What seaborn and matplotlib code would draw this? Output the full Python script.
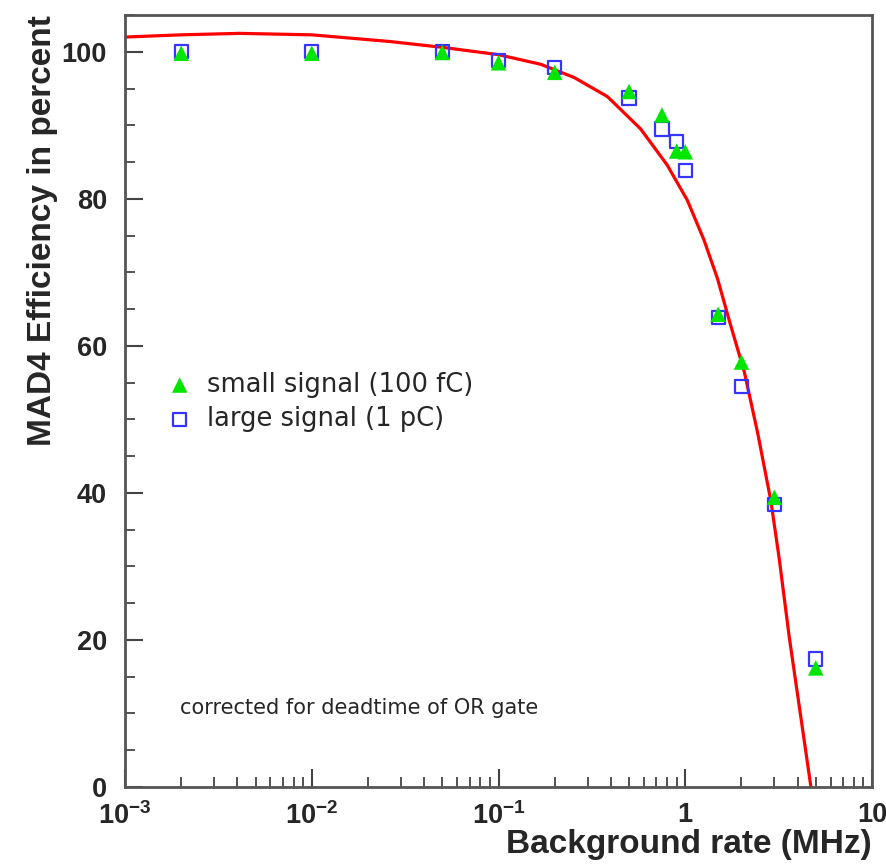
import matplotlib
matplotlib.use("Agg")
import matplotlib.pyplot as plt
from matplotlib.ticker import MultipleLocator, FixedLocator, FixedFormatter, LogLocator, NullFormatter
import seaborn as sns
import pandas as pd

# measured points (background rate in MHz, efficiency in %)
rate = [0.002, 0.01, 0.05, 0.1, 0.2, 0.5, 0.75, 0.9, 1.0, 1.5, 2.0, 3.0, 5.0]
small_eff = [99.8, 99.8, 99.9, 98.5, 97.2, 94.6, 91.4, 86.5, 86.4, 64.3, 57.8, 39.4, 16.2]
large_eff = [100.0, 100.0, 100.0, 98.8, 97.9, 93.7, 89.5, 87.8, 83.9, 63.9, 54.5, 38.4, 17.4]

# red curve
fit_rate = [0.001, 0.002, 0.0041, 0.01, 0.026, 0.05, 0.1, 0.168, 0.254, 0.383, 0.577,
            0.80, 1.026, 1.26, 1.49, 1.75, 2.07, 2.44, 2.87, 3.18, 3.6, 4.71]
fit_eff = [102.0, 102.3, 102.5, 102.3, 101.4, 100.6, 99.6, 98.3, 96.5, 93.9, 89.5,
           84.6, 79.8, 74.4, 69.1, 62.8, 56.5, 48.2, 39.0, 31.2, 20.5, 0.0]

xticks = [1e-3, 1e-2, 1e-1, 1, 10]
xtick_labels = [r'$10^{-3}$', r'$10^{-2}$', r'$10^{-1}$', '1', '10']
yticks = [0, 20, 40, 60, 80, 100]

sns.set_style("ticks")
plt.rcParams['font.family'] = ['Liberation Sans', 'DejaVu Sans']
plt.rcParams['mathtext.fontset'] = 'custom'
plt.rcParams['mathtext.rm'] = 'Liberation Sans:bold'
plt.rcParams['mathtext.it'] = 'Liberation Sans:bold'
plt.rcParams['mathtext.bf'] = 'Liberation Sans:bold'

points = pd.DataFrame({'rate': rate, 'small': small_eff, 'large': large_eff})
curve = pd.DataFrame({'rate': fit_rate, 'eff': fit_eff})

fig = plt.figure(figsize=(8.86, 8.66), dpi=100)
ax = fig.add_axes([0.1411, 0.0912, 0.8431, 0.8915])

sns.lineplot(data=curve, x='rate', y='eff', sort=False, estimator=None,
             color='#ff0000', lw=2.3, zorder=2, ax=ax)
sns.scatterplot(data=points, x='rate', y='small', marker='^', s=125,
                color='#00e600', edgecolor='none', zorder=4,
                label='small signal (100 fC)', ax=ax)
sns.scatterplot(data=points, x='rate', y='large', marker='s', s=90,
                facecolor='none', edgecolor='#3535ff', linewidth=1.6, zorder=3,
                label='large signal (1 pC)', ax=ax)

ax.set_xscale('log')
ax.set_xlim(1e-3, 10)
ax.set_ylim(0, 105)

ax.xaxis.set_major_locator(FixedLocator(xticks))
ax.xaxis.set_major_formatter(FixedFormatter(xtick_labels))
ax.xaxis.set_minor_locator(LogLocator(base=10, subs=range(2, 10)))
ax.xaxis.set_minor_formatter(NullFormatter())
ax.yaxis.set_major_locator(FixedLocator(yticks))
ax.yaxis.set_minor_locator(MultipleLocator(5))

for s in ax.spines.values():
    s.set_color('#555555')
    s.set_linewidth(2)

ax.tick_params(axis='both', which='major', direction='in', length=13, width=1.5,
               color='#444444', labelsize=19.5)
ax.tick_params(axis='both', which='minor', direction='in', length=7, width=1.3,
               color='#444444')
ax.tick_params(axis='y', which='major', pad=13)
ax.tick_params(axis='x', which='major', pad=11)
for lab in ax.get_xticklabels() + ax.get_yticklabels():
    lab.set_fontweight('bold')

ax.set_xlabel('Background rate (MHz)', fontsize=24, fontweight='bold', loc='right')
ax.set_ylabel('MAD4 Efficiency in percent', fontsize=24, fontweight='bold', loc='top')
ax.xaxis.set_label_coords(1.0, -0.054)
ax.yaxis.set_label_coords(-0.09, 1.0)

ax.legend(loc='center left', bbox_to_anchor=(0.056, 0.4987), frameon=False,
          borderpad=0, borderaxespad=0, handlelength=1.0, handletextpad=0.58,
          labelspacing=0.33, prop={'family': 'DejaVu Sans', 'size': 18.5})

ax.text(0.0736, 0.1023, 'corrected for deadtime of OR gate', transform=ax.transAxes,
        ha='left', va='center', fontsize=15, family='DejaVu Sans')

fig.savefig('out.png', dpi=100)
